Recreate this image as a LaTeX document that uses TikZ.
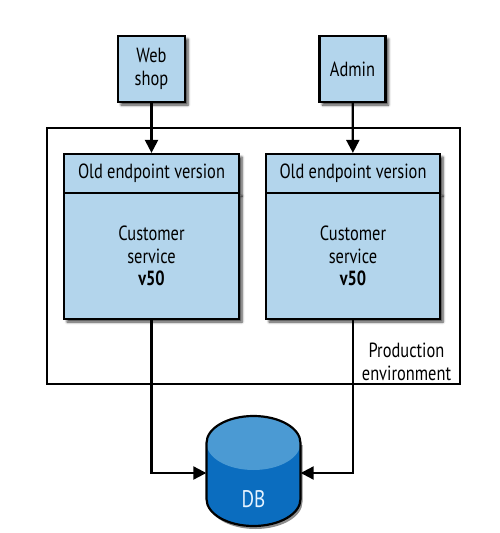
\documentclass[tikz,border=0pt]{standalone}
\usepackage{fontspec}
\setmainfont{PT Sans}[FakeStretch=0.8]
\usetikzlibrary{arrows.meta,shadows.blur}
\definecolor{boxblue}{HTML}{B3D5EC}
\definecolor{dbdark}{HTML}{0B6DBF}
\definecolor{dblight}{HTML}{4B9AD3}
\definecolor{dbtext}{HTML}{E6F3FF}
\tikzset{
  box/.style={draw=black, line width=2.2pt, fill=boxblue, align=center, inner sep=0pt,
    font=\fontsize{20.5}{22.5}\selectfont,
    blur shadow={shadow xshift=3pt, shadow yshift=-3pt, shadow blur steps=5, shadow blur radius=2.5pt, shadow opacity=75}},
  arr/.style={line width=2.2pt, -{Triangle[length=13pt,width=13pt]}},
  lbl/.style={align=center, inner sep=0pt, font=\fontsize{20.5}{23}\selectfont},
}
\begin{document}
\begin{tikzpicture}[x=1pt,y=-1pt]
\useasboundingbox (0,0) rectangle (500,533);
% outer production environment
\node[draw=black, line width=2.2pt, minimum width=413pt, minimum height=256pt, inner sep=0pt] (prod) at (253.5,256) {};
\node[lbl, anchor=south] (prodlbl) at (406.5,381) {Production\\environment};
% clients
\node[box, minimum width=67pt, minimum height=66pt] (web) at (151.5,69) {Web\\shop};
\node[box, minimum width=66pt, minimum height=66pt] (admin) at (352.5,69) {Admin};
% services
\node[box, minimum width=175pt, minimum height=39pt] (h1) at (151.5,173.5) {Old endpoint version};
\node[box, minimum width=175pt, minimum height=126pt] (b1) at (151.5,256) {Customer\\service\\\textbf{v50}};
\node[box, minimum width=174pt, minimum height=39pt] (h2) at (353,173.5) {Old endpoint version};
\node[box, minimum width=174pt, minimum height=126pt] (b2) at (353,256) {Customer\\service\\\textbf{v50}};
% database cylinder
\fill[black, opacity=0.45] (208.5,445) -- (208.5,502) arc[start angle=180,end angle=360,x radius=47pt,y radius=27pt] -- (302.5,445) -- cycle;
\fill[dbdark] (206.5,443) -- (206.5,499) arc[start angle=180,end angle=360,x radius=47pt,y radius=27pt] -- (300.5,443) arc[start angle=0,end angle=180,x radius=47pt,y radius=27pt] -- cycle;
\fill[dblight] (253.5,443) ellipse[x radius=47pt,y radius=27pt];
\draw[line width=2.2pt] (206.5,443) -- (206.5,499) arc[start angle=180,end angle=360,x radius=47pt,y radius=27pt] -- (300.5,443) arc[start angle=0,end angle=180,x radius=47pt,y radius=27pt] -- cycle;
\node[minimum width=94pt, minimum height=110pt, inner sep=0pt, label={[yshift=-26pt, text=dbtext, font=\fontsize{24}{26}\selectfont]center:DB}] (db) at (253.5,473) {};
% connectors
\draw[arr] (web) -- (h1);
\draw[arr] (admin) -- (h2);
\draw[arr] (b1.south) |- (db.west);
\draw[arr] (b2.south) |- (db.east);
\end{tikzpicture}
\end{document}
